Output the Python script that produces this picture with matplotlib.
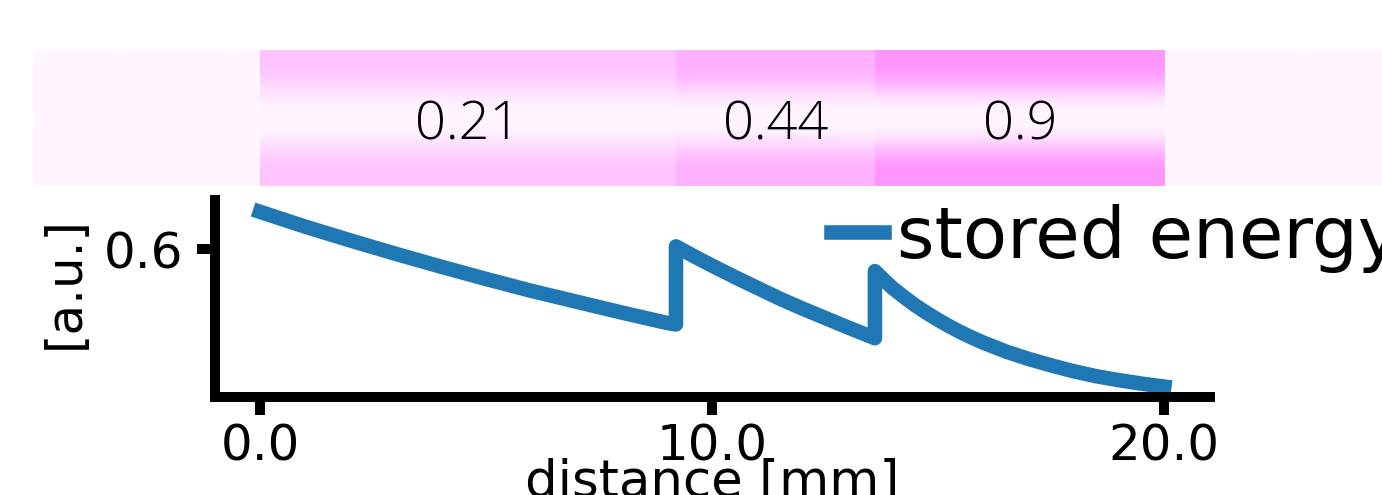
import numpy as np
import matplotlib
matplotlib.use("Agg")
import matplotlib.pyplot as plt
from matplotlib.colors import LinearSegmentedColormap

# strip bands: edges in mm and their values
band_edges = [-5.0, 0.0, 9.2, 13.6, 20.0, 25.0]
band_values = [0.0, 0.21, 0.44, 0.9, 0.0]
band_labels = ["", "0.21", "0.44", "0.9", ""]

# stored energy
dist = [0, 1, 2, 3, 4, 5, 6, 7, 8, 9, 9.2,
        9.2, 9.6, 10, 10.5, 11, 11.5, 12, 12.5, 13, 13.3, 13.6,
        13.6, 13.8, 14.0, 14.25, 14.5, 14.75, 15, 15.25, 15.5, 15.75, 16,
        16.5, 17, 17.5, 18, 18.5, 19, 19.5, 20]
energy = [0.676, 0.646, 0.618, 0.591, 0.565, 0.540, 0.516, 0.494, 0.472, 0.451, 0.448,
          0.606, 0.586, 0.567, 0.544, 0.522, 0.500, 0.480, 0.461, 0.442, 0.431, 0.420,
          0.556, 0.538, 0.521, 0.503, 0.486, 0.471, 0.457, 0.444, 0.432, 0.421, 0.411,
          0.393, 0.378, 0.365, 0.353, 0.343, 0.335, 0.328, 0.322]

fig = plt.figure(figsize=(13.82, 4.95), dpi=100)

# --- top strip
ax_s = fig.add_axes([0.0244, 0.6242, 0.9823, 0.2747])
pink = LinearSegmentedColormap.from_list("pink", ["white", "#ff00ff"])
t = np.linspace(0, 1, 200)
d = np.abs(t - 0.5) * 2
prof = np.clip((d - 0.05) / 0.75, 0, 1)
prof = prof * prof * (3 - 2 * prof)  # fade to white in the middle
for i in range(len(band_values)):
    a = 0.04 + 0.39 * band_values[i] ** 0.45 * prof
    ax_s.imshow(a[:, None], cmap=pink, vmin=0, vmax=1, aspect="auto",
                extent=(band_edges[i], band_edges[i + 1], 0, 1), interpolation="bilinear")
    if band_labels[i]:
        ax_s.text((band_edges[i] + band_edges[i + 1]) / 2, 0.44, band_labels[i],
                  ha="center", va="center", fontsize=39, family=["Open Sans", "DejaVu Sans"],
                  fontweight="light")
ax_s.set_xlim(band_edges[0], band_edges[-1])
ax_s.set_ylim(0, 1)
ax_s.axis("off")

# --- energy plot
ax = fig.add_axes([0.1554, 0.197, 0.7198, 0.399])
ax.plot(dist, energy, color="#1f77b4", lw=10.5, label="stored energy")
ax.set_xlim(-1, 21)
ax.set_ylim(0.3, 0.7)
ax.set_xticks([0, 10, 20])
ax.set_xticklabels(["0.0", "10.0", "20.0"])
ax.set_yticks([0.6])
ax.set_yticklabels(["0.6"])
for s in ["top", "right"]:
    ax.spines[s].set_visible(False)
for s in ["left", "bottom"]:
    ax.spines[s].set_linewidth(7.2)
ax.tick_params(axis="both", width=7.2, length=13, labelsize=36)
ax.tick_params(axis="x", pad=5)
ax.tick_params(axis="y", pad=10)
ax.set_xlabel("distance [mm]", fontsize=37)
ax.set_ylabel("[a.u.]", fontsize=36)
ax.xaxis.set_label_coords(0.5, -0.3)
ax.yaxis.set_label_coords(-0.127, 0.58)
ax.legend(loc="center left", bbox_to_anchor=(0.6013, 0.519), bbox_transform=fig.transFigure,
          frameon=False, fontsize=52, handlelength=0.73, handletextpad=0.18,
          borderpad=0, borderaxespad=0)

fig.savefig("out.png", dpi=100)
